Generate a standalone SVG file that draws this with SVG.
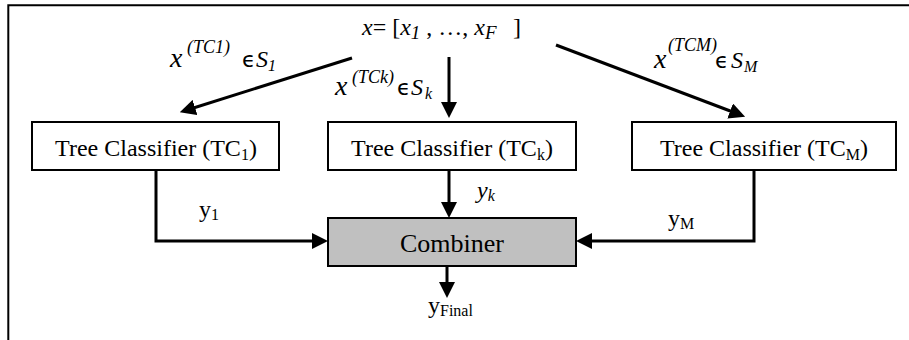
<svg xmlns="http://www.w3.org/2000/svg" width="909" height="340" viewBox="0 0 909 340">
<style>
text{font-family:"Liberation Serif","Times New Roman",serif;fill:#000}
.lbl{font-size:24px}
.bx{font-size:24px}
.it{font-style:italic}
.sub{font-size:16px}
.sup{font-size:18px;font-style:italic}
.big{font-size:28px;font-style:italic}
.eps{font-family:"DejaVu Sans","Liberation Sans",sans-serif;font-size:22px;font-style:normal}
.box{fill:#fff;stroke:#000;stroke-width:2}
.comb{fill:#c0c0c0;stroke:#000;stroke-width:2}
.con{fill:none;stroke:#000;stroke-width:3}
</style>
<defs>
<marker id="ah" markerUnits="userSpaceOnUse" markerWidth="16" markerHeight="16" refX="10" refY="8" orient="auto">
<path d="M0,0 L16,8 L0,16 z" fill="#000"/>
</marker>
</defs>
<rect width="909" height="340" fill="#fff"/>
<path d="M8.3,340 V5.3 H909" fill="none" stroke="#000" stroke-width="2"/>

<g id="input">
<text class="lbl" x="362" y="35"><tspan class="it">x</tspan>= [<tspan class="it">x</tspan><tspan class="it" font-size="19" dy="4">1</tspan><tspan dy="-4"> , …, </tspan><tspan class="it">x</tspan><tspan class="it" font-size="19" dy="4">F</tspan><tspan x="513" dy="-4">]</tspan></text>
</g>

<g id="tc1">
<rect class="box" x="32" y="122" width="247" height="48"/>
<text class="bx" x="156" y="156" text-anchor="middle">Tree Classifier (TC<tspan class="sub" dy="4">1</tspan><tspan dy="-4">)</tspan></text>
</g>
<g id="tck">
<rect class="box" x="328" y="122" width="248" height="48"/>
<text class="bx" x="452" y="156" text-anchor="middle">Tree Classifier (TC<tspan class="sub" dy="4">k</tspan><tspan dy="-4">)</tspan></text>
</g>
<g id="tcm">
<rect class="box" x="632" y="122" width="264" height="48"/>
<text class="bx" x="764" y="156" text-anchor="middle">Tree Classifier (TC<tspan class="sub" dy="4">M</tspan><tspan dy="-4">)</tspan></text>
</g>
<g id="combiner">
<rect class="comb" x="328" y="218" width="248" height="48"/>
<text x="452" y="252" text-anchor="middle" font-size="26">Combiner</text>
</g>
<g id="output">
<text class="lbl" x="428" y="313">y<tspan class="sub" dy="3">Final</tspan></text>
</g>

<g id="connectors">
<line class="con" x1="352" y1="58" x2="185.5" y2="110.5" marker-end="url(#ah)"/>
<line class="con" x1="449" y1="57" x2="449" y2="112" marker-end="url(#ah)"/>
<line class="con" x1="556" y1="45" x2="739.5" y2="114.5" marker-end="url(#ah)"/>
<polyline class="con" points="156,170 156,241 322,241" marker-end="url(#ah)"/>
<polyline class="con" points="754,170 754,241 582,241" marker-end="url(#ah)"/>
<line class="con" x1="449" y1="170" x2="449" y2="212" marker-end="url(#ah)"/>
<line class="con" x1="447" y1="266" x2="447" y2="292" marker-end="url(#ah)"/>
<text class="lbl"><tspan class="big" x="170" y="67">x</tspan><tspan class="sup" x="187" y="53">(TC1)</tspan><tspan class="eps" x="242" y="67">ϵ</tspan><tspan class="it" x="256" y="67">S</tspan><tspan class="it sub" x="268" y="71">1</tspan></text>
<text class="lbl"><tspan class="big" x="335" y="95">x</tspan><tspan class="sup" x="352" y="83">(TCk)</tspan><tspan class="eps" x="397" y="95">ϵ</tspan><tspan class="it" x="411" y="95">S</tspan><tspan class="it sub" x="425" y="99">k</tspan></text>
<text class="lbl"><tspan class="big" x="654" y="68">x</tspan><tspan class="sup" font-size="16" x="668" y="51">(TCM)</tspan><tspan class="eps" x="715" y="68">ϵ</tspan><tspan class="it" x="731" y="68">S</tspan><tspan class="it sub" x="744" y="72">M</tspan></text>
<text class="lbl" x="199" y="217">y<tspan class="sub" dy="3">1</tspan></text>
<text class="lbl it" x="477" y="198">y<tspan class="sub" dy="3">k</tspan></text>
<text class="lbl" x="668" y="226">y<tspan class="sub" dy="3">M</tspan></text>
</g>
</svg>
